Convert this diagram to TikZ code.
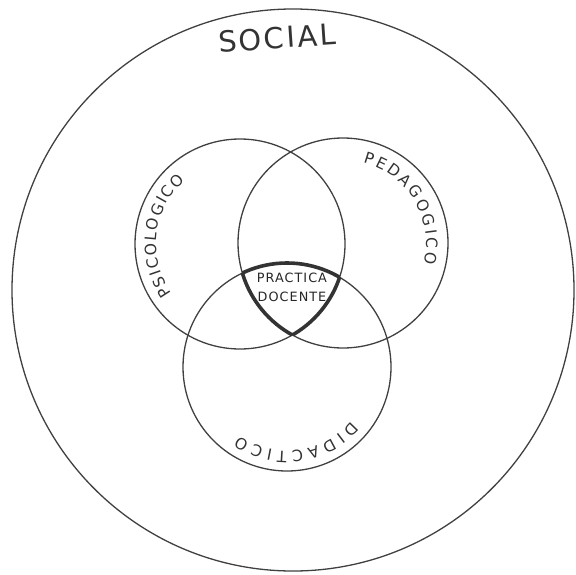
\documentclass[tikz,border=0pt]{standalone}
\usepackage{fontspec}
\setmainfont{DejaVu Sans}
\newfontfamily\handfont[LetterSpace=8]{DejaVu Sans}
\usetikzlibrary{decorations.text}

\begin{document}
\begin{tikzpicture}[x=0.5pt, y=0.5pt,
    ring/.style={draw=black!75, line width=0.65pt},
    core/.style={draw=black!80, line width=1.8pt},
    arclabel/.style={decorate, decoration={text along path, text align=fit to path,
                text={|\fontsize{7.8}{8}\selectfont\color{black!80}|#1}}}
]
    \useasboundingbox (0,0) rectangle (576,574);

    % centres of the circles
    \coordinate (social) at (293,284);
    \coordinate (psico) at (240,330);
    \coordinate (pedago) at (343,331);
    \coordinate (didac) at (287,207);

    \draw[ring] (social) circle (281);
    \draw[ring] (psico) circle (105);
    \draw[ring] (pedago) circle (105);
    \draw[ring] (didac) circle (104);

    % outline of the common part
    \begin{scope}
        \clip (pedago) circle (105);
        \clip (didac) circle (104);
        \draw[core] (psico) circle (105);
    \end{scope}
    \begin{scope}
        \clip (psico) circle (105);
        \clip (didac) circle (104);
        \draw[core] (pedago) circle (105);
    \end{scope}
    \begin{scope}
        \clip (psico) circle (105);
        \clip (pedago) circle (105);
        \draw[core] (didac) circle (104);
    \end{scope}

    % labels
    \node[rotate=4, text=black!80, font=\handfont\fontsize{14.5}{15}\selectfont] (socialtxt) at (277,536) {SOCIAL};

    \path[arclabel=PSICOLOGICO] (psico) ++(216:84) arc[start angle=216, end angle=131, radius=84];
    \path[arclabel=PEDAGOGICO] (pedago) ++(76:83) arc[start angle=76, end angle=-14, radius=83];
    \path[arclabel=DIDACTICO] (didac) ++(-40:84) arc[start angle=-40, end angle=-125, radius=84];

    \node[align=center, text=black!85, font=\handfont\fontsize{6.4}{9.5}\selectfont] (practica) at (292,287) {PRACTICA\\DOCENTE};
\end{tikzpicture}
\end{document}
